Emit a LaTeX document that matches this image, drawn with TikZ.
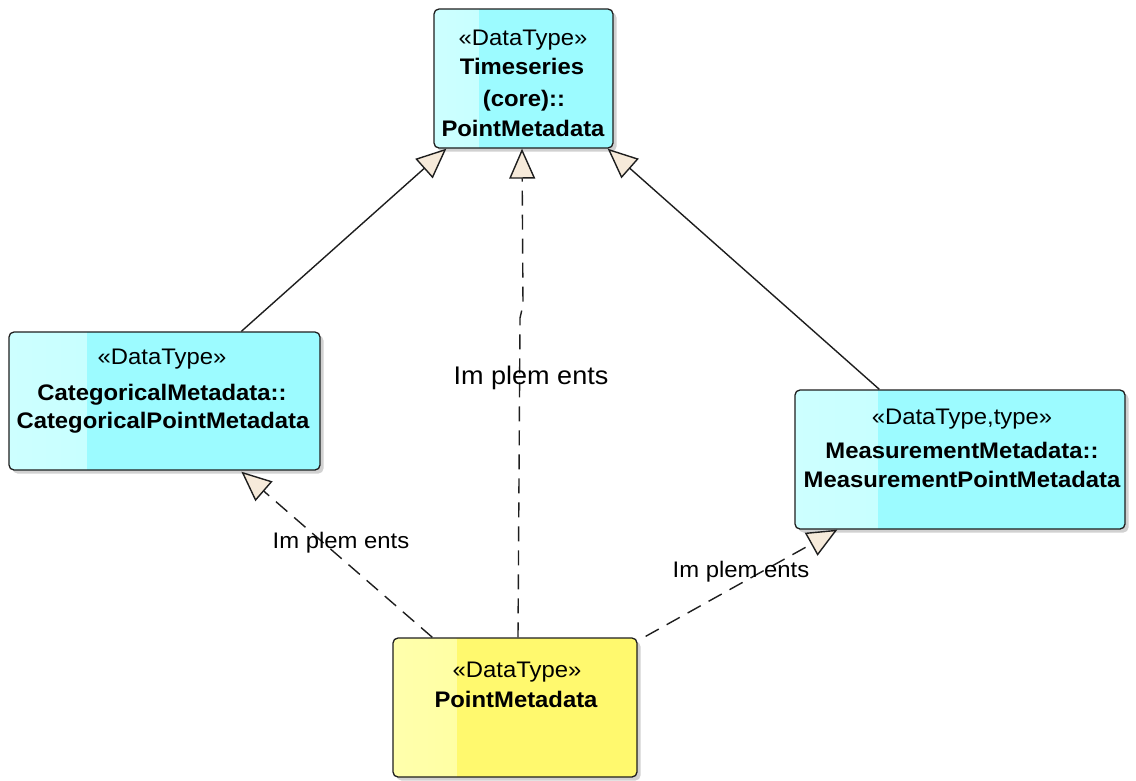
\documentclass[tikz,border=0pt]{standalone}
\usepackage{fontspec}
\setmainfont{Liberation Sans}[FakeStretch=1.06]
\usetikzlibrary{arrows.meta,calc,shadows}

\definecolor{dtcyan}{RGB}{156,251,255}
\definecolor{dtcyanlt}{RGB}{205,255,255}
\definecolor{dtcyanmid}{RGB}{184,254,255}
\definecolor{dtyellow}{RGB}{255,249,110}
\definecolor{dtyellowlt}{RGB}{255,255,172}
\definecolor{dtyellowmid}{RGB}{255,253,140}
\definecolor{tipfill}{RGB}{246,234,218}
\definecolor{edge}{RGB}{30,30,30}

\tikzset{
  umlbox/.style={draw=edge, line width=1.3pt, rounded corners=5pt, inner sep=0pt,
    general shadow={fill=black!18, shadow xshift=3.5pt, shadow yshift=-3.5pt}},
  cyanbox/.style={umlbox, fill=dtcyan,
    path picture={\shade[sharp corners, left color=dtcyanlt, right color=dtcyanmid]
      (path picture bounding box.south west) rectangle
      ($(path picture bounding box.north west)!0.25!(path picture bounding box.north east)$);}},
  yellowbox/.style={umlbox, fill=dtyellow,
    path picture={\shade[sharp corners, left color=dtyellowlt, right color=dtyellowmid]
      (path picture bounding box.south west) rectangle
      ($(path picture bounding box.north west)!0.26!(path picture bounding box.north east)$);}},
  stereo/.style={anchor=base, inner sep=0pt, font=\fontsize{22.5}{26}\selectfont},
  cname/.style={anchor=base, inner sep=0pt, font=\fontsize{22.5}{26}\selectfont\bfseries},
  lbl/.style={inner sep=0pt, font=\fontsize{22.5}{26}\selectfont},
  biglbl/.style={inner sep=0pt, font=\fontsize{25.5}{29}\selectfont},
  gen/.style={draw=edge, line width=1.4pt, -{Triangle[length=30pt,width=26pt,fill=tipfill]}},
  realize/.style={gen, dash pattern=on 15pt off 9pt},
}

\begin{document}
\begin{tikzpicture}[x=1pt, y=-1pt]
\useasboundingbox (0,0) rectangle (1136,780);

% classes
\node[cyanbox, minimum width=179pt, minimum height=139pt] (core) at (523.5,78.5) {};
\node[cyanbox, minimum width=311pt, minimum height=138pt] (cat) at (164.5,401) {};
\node[cyanbox, minimum width=330pt, minimum height=139pt] (meas) at (960,459.5) {};
\node[yellowbox, minimum width=244pt, minimum height=139pt] (pm) at (515,707.5) {};

% class texts
\node[stereo] (coreS) at (523,45) {«DataType»};
\node[cname] (coreN1) at (522,74) {Timeseries};
\node[cname] (coreN2) at (524,106) {(core)::};
\node[cname] (coreN3) at (523,136) {PointMetadata};

\node[stereo] (catS) at (162,364) {«DataType»};
\node[cname] (catN1) at (162,400) {CategoricalMetadata::};
\node[cname] (catN2) at (163,428) {CategoricalPointMetadata};

\node[stereo] (measS) at (962,424) {«DataType,type»};
\node[cname] (measN1) at (962,458) {MeasurementMetadata::};
\node[cname] (measN2) at (962,487) {MeasurementPointMetadata};

\node[stereo] (pmS) at (517,677) {«DataType»};
\node[cname] (pmN) at (516,707) {PointMetadata};

% connector end points
\coordinate (catTop) at ($(cat.north west)+(233,0)$);
\coordinate (catBot) at ($(cat.south west)+(233,1)$);
\coordinate (coreL) at ($(core.south west)+(13,0)$);
\coordinate (coreM) at ($(core.south)+(-1.5,0)$);
\coordinate (coreR) at ($(core.south east)+(-6,0)$);
\coordinate (measTop) at ($(meas.north west)+(85,0)$);
\coordinate (measBot) at ($(meas.south west)+(43,0)$);
\coordinate (pmL) at ($(pm.north west)+(40,0)$);
\coordinate (pmM) at ($(pm.north)+(3,0)$);
\coordinate (pmR) at ($(pm.north east)+(8,-1)$);
\coordinate (k1) at (520,318);
\coordinate (k2) at (523,305);

% generalizations
\draw[gen] (catTop) -- (coreL);
\draw[gen] (measTop) -- (coreR);

% realizations
\draw[realize] (pmM) -- (k1) -- (k2) -- (coreM);
\draw[realize] (pmL) -- (catBot);
\draw[realize] (pmR) -- (measBot);

% labels
\node[biglbl] (impM) at (531,378) {Im plem ents};
\node[lbl] (impL) at (341,543) {Im plem ents};
\node[lbl] (impR) at (741,572) {Im plem ents};
\end{tikzpicture}
\end{document}
